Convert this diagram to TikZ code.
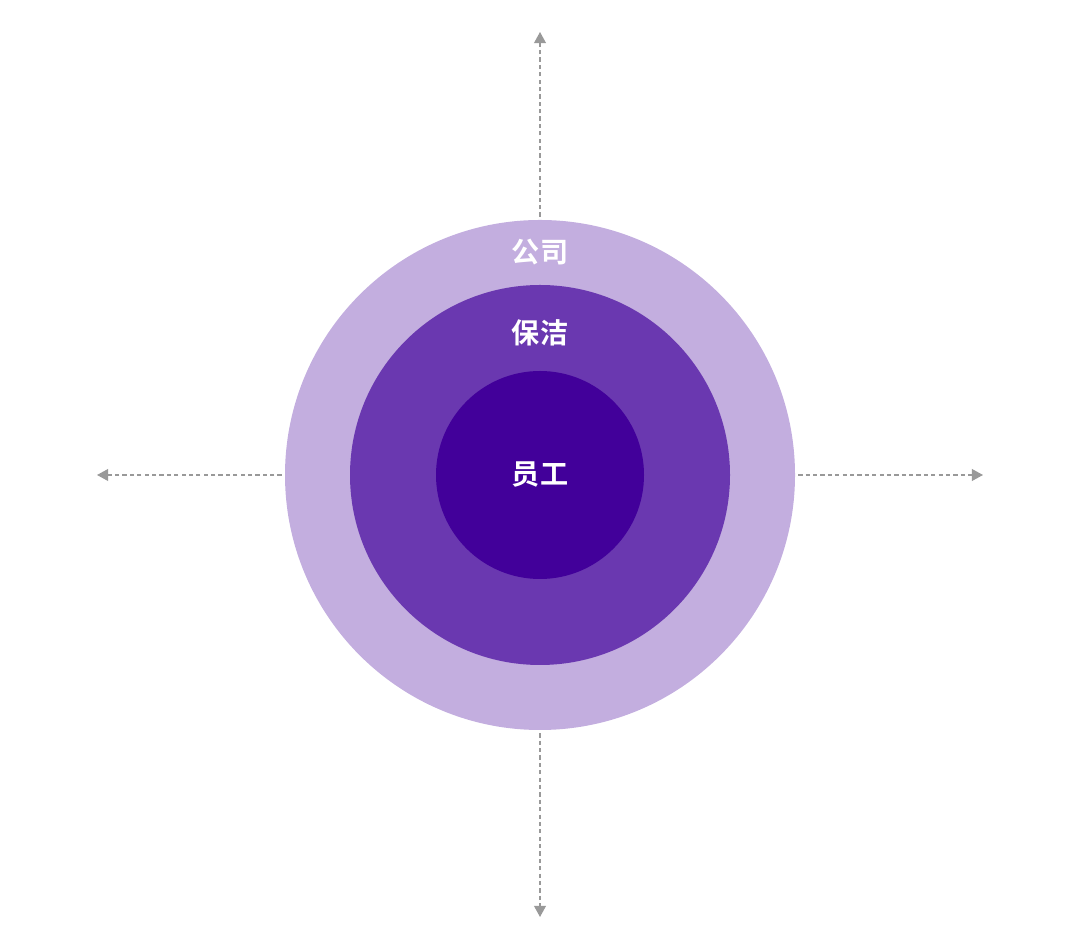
\documentclass[tikz,border=0pt]{standalone}
\usepackage{fontspec}
\newfontfamily\cjk{Noto Sans CJK SC Bold}
\usepackage{xcolor}
\usetikzlibrary{arrows.meta,positioning,calc}
\definecolor{ringOuter}{HTML}{C3AEDF}
\definecolor{ringMid}{HTML}{6A38B0}
\definecolor{ringInner}{HTML}{42009A}
\definecolor{axisGray}{HTML}{999999}

\begin{document}
\begin{tikzpicture}[
	ring/.style={shape=circle,inner sep=0pt,draw=none},
	label/.style={text=white,font=\cjk\fontsize{8}{8}\selectfont},
	axis/.style={color=axisGray,line width=0.4pt,dash pattern=on 1.2pt off 0.9pt,-{Triangle[length=3.2pt,width=3.4pt]}}]
	\useasboundingbox (0,0) rectangle (10.8,9.5);
	\coordinate (C) at (5.4,4.75);
	\coordinate (N) at (5.4,9.18);
	\coordinate (S) at (5.4,0.33);
	\coordinate (W) at (0.97,4.75);
	\coordinate (E) at (9.83,4.75);
	\path[axis] (C) edge (N)
		edge (S)
		edge (W)
		edge (E);
	\node[ring,fill=ringOuter,minimum size=5.1cm](GS) at (C) {};
	\node[ring,fill=ringMid,minimum size=3.8cm](BJ) at (C) {};
	\node[ring,fill=ringInner,minimum size=2.08cm](YG) at (C) {};
	\node[label](GSL) at (5.4,6.98) {公司};
	\node[label](BJL) at (5.4,6.17) {保洁};
	\node[label](YGL) at (YG) {员工};
\end{tikzpicture}
\end{document}
